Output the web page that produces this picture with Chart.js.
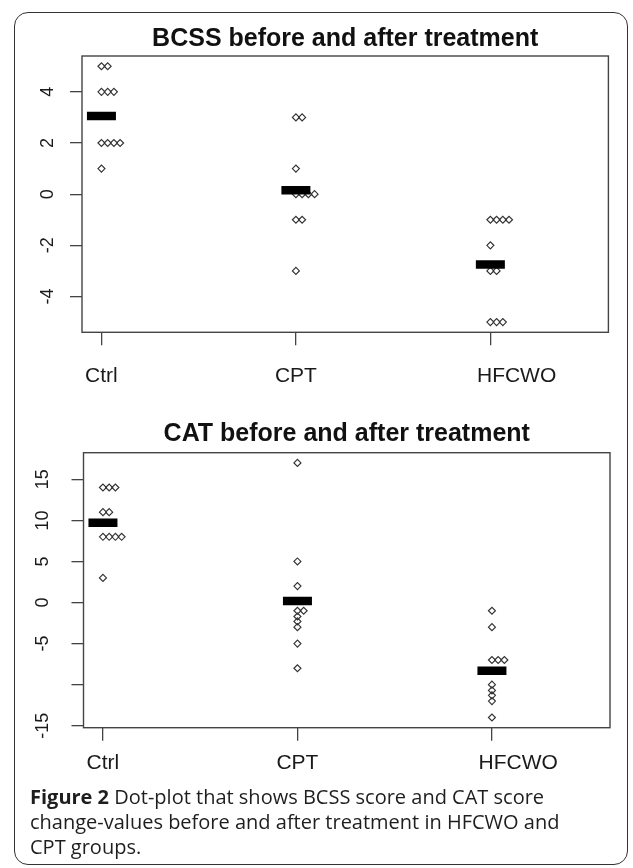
<!DOCTYPE html>
<html>
<head>
<meta charset="utf-8">
<script src="https://cdn.jsdelivr.net/npm/chart.js@4.4.1/dist/chart.umd.min.js"></script>
<style>
  html, body { margin: 0; padding: 0; background: #fff; }
  body { width: 633px; height: 868px; position: relative; overflow: hidden; }
  #frame { position: absolute; left: 14px; top: 12px; width: 614px; height: 853px;
           border: 1.5px solid #333; border-radius: 14px; box-sizing: border-box; }
  canvas { position: absolute; left: 0; }
  #c1 { top: 0; }
  #c2 { top: 400px; }
  #caption { position: absolute; left: 30px; top: 784px; font-family: "Open Sans", sans-serif;
             font-size: 20px; line-height: 25px; color: #1e1e1e; white-space: nowrap; }
  #caption b { font-weight: 700; }
</style>
</head>
<body>
<div id="frame"></div>
<canvas id="c1" width="633" height="400"></canvas>
<canvas id="c2" width="633" height="390"></canvas>
<div id="caption"><b>Figure 2</b> Dot-plot that shows BCSS score and CAT score<br>change-values before and after treatment in HFCWO and<br>CPT groups.</div>
<script>
// ---- data ----
const groups = ['Ctrl', 'CPT', 'HFCWO'];

const bcssCtrl  = [5, 5, 4, 4, 4, 2, 2, 2, 2, 1];
const bcssCpt   = [3, 3, 1, 0, 0, 0, 0, -1, -1, -3];
const bcssHfcwo = [-1, -1, -1, -1, -2, -3, -3, -5, -5, -5];
const bcssMeans = [3.05, 0.15, -2.75];
const bcssTicks = [-4, -2, 0, 2, 4];
const bcssTickLabels = ['-4', '-2', '0', '2', '4'];

const catCtrl  = [14, 14, 14, 11, 11, 8, 8, 8, 8, 3];
const catCpt   = [17, 5, 2, -1, -1, -1.7, -2.3, -3, -5, -8];
const catHfcwo = [-1, -3, -7, -7, -7, -10, -10.7, -11.3, -12, -14];
const catMeans = [9.7, 0.2, -8.3];
const catTicks = [-15, -10, -5, 0, 5, 10, 15];
const catTickLabels = ['-15', '', '-5', '0', '5', '10', '15'];

// ---- helpers ----
const STACK_STEP = 0.032; // horizontal offset for tied values (R stripchart "stack")
function stackPoints(seriesList) {
  const pts = [];
  seriesList.forEach((vals, gi) => {
    const seen = {};
    vals.forEach(v => {
      const k = String(v);
      const n = seen[k] || 0;
      seen[k] = n + 1;
      pts.push({ x: gi + 1 + n * STACK_STEP, y: v });
    });
  });
  return pts;
}
function meanPoints(means) {
  return means.map((m, i) => ({ x: i + 1, y: m }));
}

const boxPlugin = {
  id: 'rbox',
  afterDraw(chart) {
    const a = chart.chartArea, ctx = chart.ctx;
    ctx.save();
    ctx.strokeStyle = '#444';
    ctx.lineWidth = 1.4;
    ctx.strokeRect(a.left, a.top, a.right - a.left, a.bottom - a.top);
    ctx.restore();
  }
};

Chart.defaults.font.family = '"Liberation Sans", Arial, sans-serif';
Chart.defaults.color = '#1a1a1a';

function makeChart(canvas, cfg) {
  return new Chart(canvas, {
    type: 'scatter',
    data: {
      datasets: [
        { data: meanPoints(cfg.means), order: 0, pointStyle: 'line', pointRadius: 14.5,
          pointBorderWidth: 8.5, borderColor: '#000', backgroundColor: '#000', showLine: false },
        { data: stackPoints(cfg.series), order: 1, pointStyle: 'rectRot', pointRadius: 3.5,
          pointBorderWidth: 1.15, borderColor: '#333', backgroundColor: 'rgba(0,0,0,0)', showLine: false }
      ]
    },
    options: {
      responsive: false,
      animation: false,
      events: [],
      layout: { padding: { left: 0, right: cfg.padRight, top: 0, bottom: 0 } },
      plugins: {
        legend: { display: false },
        tooltip: { enabled: false },
        title: {
          display: true, text: cfg.title, fullSize: false, color: '#111',
          font: { size: 25, weight: 'bold' },
          padding: { top: cfg.titleTop, bottom: cfg.titleBottom }
        }
      },
      scales: {
        x: {
          type: 'linear', min: 0.9, max: 3.607,
          afterBuildTicks: s => { s.ticks = groups.map((g, i) => ({ value: i + 1 })); },
          afterFit: s => { s.height = cfg.xHeight; },
          ticks: {
            autoSkip: false, maxRotation: 0, minRotation: 0, padding: cfg.xPad,
            font: { size: 21 }, color: '#1a1a1a',
            callback: (v, i) => (i === 2 ? ' '.repeat(9) : '') + groups[i]
          },
          grid: { drawOnChartArea: false, drawTicks: true, tickLength: 13, color: '#444', lineWidth: 1.3 },
          border: { display: false }
        },
        y: {
          type: 'linear', min: cfg.yMin, max: cfg.yMax,
          afterBuildTicks: s => { s.ticks = cfg.ticks.map(v => ({ value: v })); },
          afterFit: s => { s.width = cfg.yWidth; },
          ticks: {
            autoSkip: false, minRotation: 90, maxRotation: 90, crossAlign: 'center',
            padding: cfg.yPad, font: { size: 18 }, color: '#1a1a1a',
            callback: (v, i) => cfg.tickLabels[i]
          },
          grid: { drawOnChartArea: false, drawTicks: true, tickLength: 12, color: '#444', lineWidth: 1.3 },
          border: { display: false }
        }
      }
    },
    plugins: [boxPlugin]
  });
}

makeChart(document.getElementById('c1'), {
  title: 'BCSS before and after treatment',
  series: [bcssCtrl, bcssCpt, bcssHfcwo], means: bcssMeans,
  ticks: bcssTicks, tickLabels: bcssTickLabels,
  yMin: -5.4, yMax: 5.4,
  padRight: 24.6, titleTop: 23.7, titleBottom: 2.3,
  xHeight: 67.7, xPad: 18.3, yWidth: 82, yPad: 13.7
});

makeChart(document.getElementById('c2'), {
  title: 'CAT before and after treatment',
  series: [catCtrl, catCpt, catHfcwo], means: catMeans,
  ticks: catTicks, tickLabels: catTickLabels,
  yMin: -15.24, yMax: 18.24,
  padRight: 23, titleTop: 19, titleBottom: 3.7,
  xHeight: 62.3, xPad: 10.2, yWidth: 83.5, yPad: 15.2
});
</script>
</body>
</html>
